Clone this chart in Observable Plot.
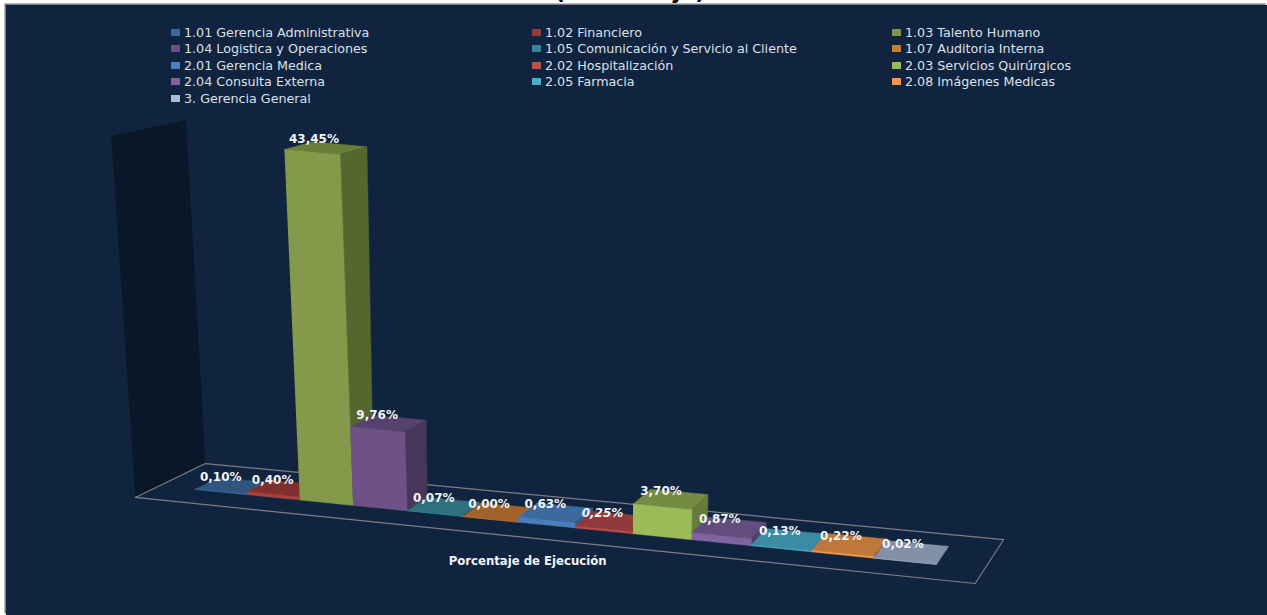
<!DOCTYPE html>
<html><head><meta charset="utf-8">
<script src="https://cdn.jsdelivr.net/npm/d3@7"></script>
<script src="https://cdn.jsdelivr.net/npm/@observablehq/plot@0.6"></script>
<style>
html,body{margin:0;padding:0;background:#fff;width:1267px;height:615px;overflow:hidden;font-family:"DejaVu Sans",sans-serif}
#title{position:absolute;left:0;top:0;width:1260px;height:5px;overflow:hidden}
#title span{position:absolute;left:0;right:0;top:-21px;text-align:center;font:bold 21.5px/26px "DejaVu Sans";color:#000}
#panel{position:absolute;left:6px;top:5px;width:1261px;height:610px;background:#10243f;box-shadow:-1.5px -1.5px 0 #7a7a7a}
#legend{position:absolute;left:165px;top:19px;display:grid;grid-template-columns:361px 360px 300px;grid-auto-rows:16.5px;font:12.7px "DejaVu Sans";color:#dde1e8}
#legend div{display:flex;align-items:center;white-space:nowrap}
#legend i{display:inline-block;width:9px;height:7px;margin-right:4px}
svg{position:absolute;left:0;top:0}
</style></head><body>
<div id="title"><span>(Porcentaje)</span></div>
<div id="panel"><div id="chart"></div><div id="legend"></div></div>
<script>
const categories=["1.01 Gerencia Administrativa","1.02 Financiero","1.03 Talento Humano","1.04 Logistica y Operaciones","1.05 Comunicación y Servicio al Cliente","1.07 Auditoria Interna","2.01 Gerencia Medica","2.02 Hospitalización","2.03 Servicios Quirúrgicos","2.04 Consulta Externa","2.05 Farmacia","2.08 Imágenes Medicas","3. Gerencia General"];
const values=[0.10,0.40,43.45,9.76,0.07,0.00,0.63,0.25,3.70,0.87,0.13,0.22,0.02];
const frontColors=["#3f6ea3","#a8423f","#84994a","#6d5187","#31859c","#c4742e","#4a7ebb","#be4b48","#9bbb59","#8064a2","#4bacc6","#f79646","#a7b4cc"];
const topColors=["#305680","#7f302e","#6a7e3a","#57426f","#2f6f80","#a3622b","#3d6a9e","#8f3b3b","#748c42","#634c7e","#3a8ca3","#c0783a","#8391a8"];
const sideColors=["#2a4a70","#6c2a28","#55662f","#473658","#275f70","#8a5225","#34598a","#7a3232","#667c3a","#54406b","#317a8e","#a86630","#6f7c92"];
const legendColors=["#3f6797","#943c3a","#7f964b","#6c5187","#36879e","#c87b37","#4a81bd","#c0504d","#9bbb59","#8064a2","#4bacc6","#f79646","#aebcd8"];
const axisTitle="Porcentaje de Ejecución";

// 3D view calibration: page pixels of the bar floor, and vanishing point of the verticals
const FL=[195,489],FR=[936,564],BR=[948,546],BL=[218,478];
const VP=[620,7800], PXPER=8.08, R=1.11, N=categories.length;
const lerp=(a,b,t)=>[a[0]+(b[0]-a[0])*t,a[1]+(b[1]-a[1])*t];
const warp=s=>s/(s+R*(1-s));
function floorT(t,d){return lerp(lerp(FL,FR,t),lerp(BL,BR,t),d);}
function toT(u){return warp(u/N);}
function lift(b,d,v){
  const vx=b[0]-VP[0],vy=b[1]-VP[1],l=Math.hypot(vx,vy),h=v*PXPER;
  return [b[0]+h*vx/l+d*h*0.0143,b[1]+h*vy/l+d*h*0.013];
}
const proj=(u,d,v)=>lift(floorT(toT(u),d),d,v);
const faces=[];
function face(id,fill,pts){pts.forEach(p=>faces.push({id,fill,x:p[0],y:p[1]}));}
values.forEach((v,i)=>{
  const a=i,b=i+1;
  face(`t${i}`,topColors[i],[proj(a,0,v),proj(b,0,v),proj(b,1,v),proj(a,1,v)]);
  face(`s${i}`,sideColors[i],[proj(b,0,0),proj(b,1,0),proj(b,1,v),proj(b,0,v)]);
  face(`f${i}`,frontColors[i],[proj(a,0,0),proj(b,0,0),proj(b,0,v),proj(a,0,v)]);
});
const labels=values.map((v,i)=>{const p=proj(i+0.27+0.008*i,0.5,v);return {i,x:p[0],y:p[1]-7.5,text:v.toFixed(2).replace(".",",")+"%"};});
// floor frame and left wall in floor coordinates (t along the categories, d into depth)
const frameTD=[[-0.047,-1.075],[1.064,-0.77],[1.066,1.62],[-0.0525,2.07],[-0.047,-1.075]];
const frame=frameTD.map(([t,d])=>{const p=floorT(t,d);return {x:p[0],y:p[1]};});
const wallTop=[44.8,42.6];
const wb0=floorT(...frameTD[0]),wb1=floorT(...frameTD[3]);
const wall=[wb0,lift(wb0,0,wallTop[0]),lift(wb1,0,wallTop[1]),wb1].map(p=>({x:p[0],y:p[1]}));
const axisAt=floorT(0.504,-2.37);
const axisLabel=[{x:axisAt[0],y:axisAt[1],text:axisTitle}];
const chart=Plot.plot({
  width:1261,height:610,margin:0,
  x:{domain:[6,1267],range:[0,1261],axis:null},
  y:{domain:[5,615],range:[0,610],axis:null},
  style:{background:"transparent"},
  marks:[
    Plot.line(wall,{x:"x",y:"y",fill:"#0a1728",stroke:"none"}),
    Plot.line(frame,{x:"x",y:"y",stroke:"#7d7f82",strokeWidth:1.2}),
    Plot.line(faces,{x:"x",y:"y",z:"id",fill:"fill",stroke:"fill",strokeWidth:0.4}),
    Plot.text(labels.filter(d=>d.i!==7),{x:"x",y:"y",text:"text",fill:"#f4f5f6",fontWeight:"bold",fontSize:12,fontFamily:"DejaVu Sans"}),
    Plot.text(labels.filter(d=>d.i===7),{x:"x",y:"y",text:"text",fill:"#f4f5f6",fontWeight:"bold",fontStyle:"italic",fontSize:12,fontFamily:"DejaVu Sans"}),
    Plot.text(axisLabel,{x:"x",y:"y",text:"text",fill:"#f4f5f6",fontWeight:"bold",fontSize:11.7,fontFamily:"DejaVu Sans"})
  ]
});
document.getElementById("chart").append(chart);
const lg=document.getElementById("legend");
categories.forEach((c,i)=>{const d=document.createElement("div");const s=document.createElement("i");s.style.background=legendColors[i];d.append(s,document.createTextNode(c));lg.append(d);});
</script></body></html>
